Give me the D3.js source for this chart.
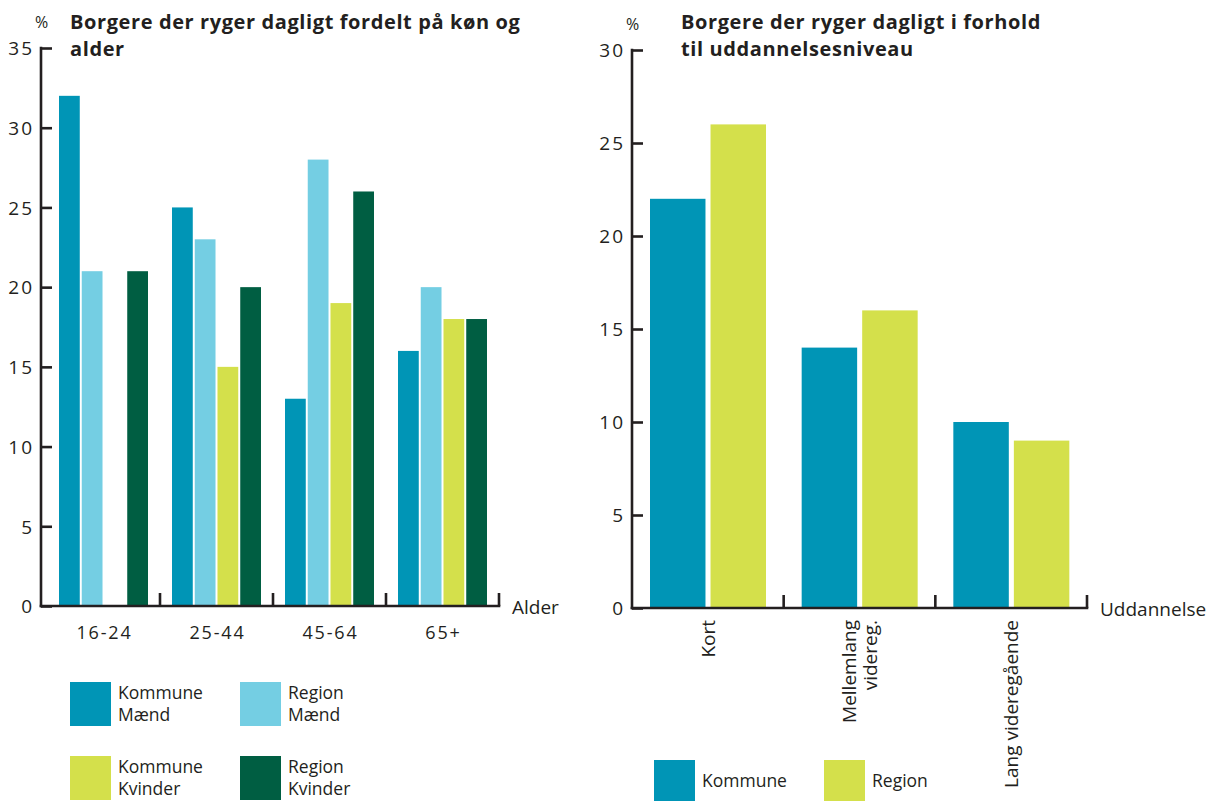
<!DOCTYPE html>
<html><head><meta charset="utf-8">
<script src="https://cdn.jsdelivr.net/npm/d3@7"></script>
<style>
body{margin:0;background:#fff;}
text{font-family:"Open Sans",sans-serif;fill:#231f20;}
</style></head>
<body><svg id="c" width="1221" height="801"></svg>
<script>
// ---- data ----
const ageGroups = ["16-24","25-44","45-64","65+"];
const seriesLeft = ["Kommune Mænd","Region Mænd","Kommune Kvinder","Region Kvinder"];
const kommuneMaend = [32,25,13,16];
const regionMaend = [21,23,28,20];
const kommuneKvinder = [0,15,19,18];
const regionKvinder = [21,20,26,18];
const leftTicks = [0,5,10,15,20,25,30,35];

const eduGroups = [["Kort"],["Mellemlang","videreg."],["Lang videregående"]];
const seriesRight = ["Kommune","Region"];
const eduKommune = [22,14,10];
const eduRegion = [26,16,9];
const rightTicks = [0,5,10,15,20,25,30];

const colors = {"Kommune Mænd":"#0095b6","Region Mænd":"#74cee3","Kommune Kvinder":"#d4e04b","Region Kvinder":"#005e42","Kommune":"#0095b6","Region":"#d4e04b"};
const ink = "#231f20";

const svg = d3.select("#c");

function drawAxes(g, axisX, axisEnd, y, ticks, xLabel, edges){
  const y0 = y(0);
  const ya = d3.axisLeft(y).tickValues(ticks).tickSize(-11).tickSizeOuter(0).tickPadding(7).tickFormat(d3.format("d"));
  const ga = g.append("g").attr("transform",`translate(${axisX},0)`).call(ya);
  ga.select(".domain").attr("stroke",ink).attr("stroke-width",2.6).attr("d",`M0,${y0+1.3}V${y.range()[1]-1.3}`);
  ga.selectAll(".tick line").attr("stroke",ink).attr("stroke-width",2.6);
  ga.selectAll(".tick text").style("font-size","19px").style("letter-spacing","2px").attr("fill",ink).attr("dy","0.36em");
  g.append("line").attr("x1",axisX-1.3).attr("x2",axisEnd+1.3).attr("y1",y0).attr("y2",y0).attr("stroke",ink).attr("stroke-width",2.6);
  g.selectAll("line.xt").data(edges).join("line").attr("class","xt")
    .attr("x1",d=>d).attr("x2",d=>d).attr("y1",y0).attr("y2",y0-13).attr("stroke",ink).attr("stroke-width",2.6);
  g.append("text").attr("x",axisEnd+13).attr("y",y0+1).attr("dy","0.36em").style("font-size","19px").text(xLabel);
}

function title(g, x, lines){
  const t = g.append("text").attr("x",x).attr("y",29).style("font-size","20px").style("font-weight","700").style("letter-spacing","0.6px");
  lines.forEach((l,i)=>t.append("tspan").attr("x",x).attr("dy",i?27:0).text(l));
}

// ---- Left chart ----
{
  const g = svg.append("g");
  const x0 = d3.scaleBand().domain(ageGroups).range([47,499]);
  const x1 = d3.scaleBand().domain(seriesLeft).range([12,101]).paddingInner(2/23);
  const y = d3.scaleLinear().domain([0,35]).range([606,48]);
  const vals = {"Kommune Mænd":kommuneMaend,"Region Mænd":regionMaend,"Kommune Kvinder":kommuneKvinder,"Region Kvinder":regionKvinder};
  const data = [];
  ageGroups.forEach((a,i)=>seriesLeft.forEach(s=>data.push({a,s,v:vals[s][i]})));
  g.selectAll("rect.bar").data(data).join("rect").attr("class","bar")
    .attr("x",d=>x0(d.a)+x1(d.s)).attr("width",x1.bandwidth())
    .attr("y",d=>y(d.v)).attr("height",d=>y(0)-y(d.v)).attr("fill",d=>colors[d.s]);
  const edges = ageGroups.map(a=>x0(a)+x0.bandwidth());
  drawAxes(g,41,x0.range()[1],y,leftTicks,"Alder",edges);
  g.selectAll("text.xl").data(ageGroups).join("text").attr("class","xl")
    .attr("x",d=>x0(d)+x0.bandwidth()/2+1).attr("y",639).attr("text-anchor","middle")
    .style("font-size","18px").style("letter-spacing","1.8px").text(d=>d);
  g.append("text").attr("x",35).attr("y",28).style("font-size","16px").text("%");
  title(g,70,["Borgere der ryger dagligt fordelt på køn og","alder"]);
  const leg = [{s:"Kommune Mænd",x:70,y:682,l:["Kommune","Mænd"]},{s:"Region Mænd",x:240,y:682,l:["Region","Mænd"]},
               {s:"Kommune Kvinder",x:70,y:756,l:["Kommune","Kvinder"]},{s:"Region Kvinder",x:240,y:756,l:["Region","Kvinder"]}];
  const lg = g.selectAll("g.leg").data(leg).join("g").attr("class","leg").attr("transform",d=>`translate(${d.x},${d.y})`);
  lg.append("rect").attr("width",41).attr("height",44).attr("fill",d=>colors[d.s]);
  lg.append("text").attr("x",48).attr("y",17).style("font-size","17.5px").text(d=>d.l[0]);
  lg.append("text").attr("x",48).attr("y",39).style("font-size","17.5px").text(d=>d.l[1]);
}

// ---- Right chart ----
{
  const g = svg.append("g");
  const keys = eduGroups.map(d=>d.join(" "));
  const x0 = d3.scaleBand().domain(keys).range([632,1087]);
  const x1 = d3.scaleBand().domain(seriesRight).range([18,134]).paddingInner(5/60);
  const y = d3.scaleLinear().domain([0,30]).range([608,50]);
  const vals = {"Kommune":eduKommune,"Region":eduRegion};
  const data = [];
  keys.forEach((k,i)=>seriesRight.forEach(s=>data.push({k,s,v:vals[s][i]})));
  g.selectAll("rect.bar").data(data).join("rect").attr("class","bar")
    .attr("x",d=>x0(d.k)+x1(d.s)).attr("width",x1.bandwidth())
    .attr("y",d=>y(d.v)).attr("height",d=>y(0)-y(d.v)).attr("fill",d=>colors[d.s]);
  const edges = keys.map(k=>x0(k)+x0.bandwidth());
  drawAxes(g,632,x0.range()[1],y,rightTicks,"Uddannelse",edges);
  eduGroups.forEach((lines,i)=>{
    const cx = x0(keys[i])+x0.bandwidth()/2;
    const n = lines.length;
    lines.forEach((ln,j)=>{
      const xx = cx + 7 + (j-(n-1)/2)*21;
      g.append("text").attr("transform",`translate(${xx},620) rotate(-90)`).attr("text-anchor","end")
        .style("font-size","19px").text(ln);
    });
  });
  g.append("text").attr("x",626).attr("y",30).style("font-size","16px").text("%");
  title(g,681,["Borgere der ryger dagligt i forhold","til uddannelsesniveau"]);
  const leg = [{s:"Kommune",x:654},{s:"Region",x:824}];
  const lg = g.selectAll("g.leg").data(leg).join("g").attr("class","leg").attr("transform",d=>`translate(${d.x},760)`);
  lg.append("rect").attr("width",41).attr("height",41).attr("fill",d=>colors[d.s]);
  lg.append("text").attr("x",48).attr("y",27).style("font-size","17.5px").text(d=>d.s);
}
</script></body></html>
